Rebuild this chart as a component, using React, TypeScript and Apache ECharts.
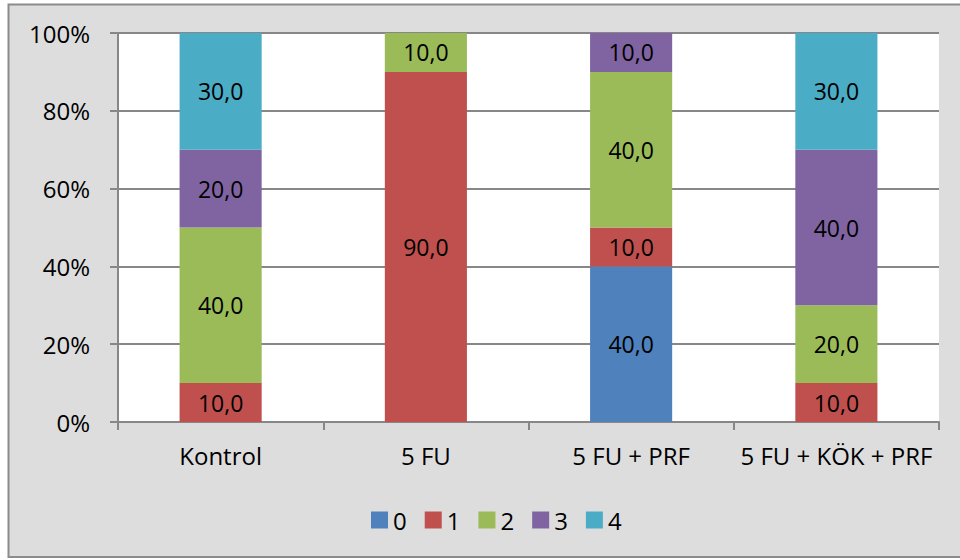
import React, { useEffect, useRef } from "react";
import * as echarts from "echarts";

const categories = ["Kontrol", "5 FU", "5 FU + PRF", "5 FU + KÖK + PRF"];
const seriesNames = ["0", "1", "2", "3", "4"];
const s0 = [0, 0, 40, 0];
const s1 = [10, 90, 10, 10];
const s2 = [40, 10, 40, 20];
const s3 = [20, 0, 10, 40];
const s4 = [30, 0, 0, 30];
const seriesValues = [s0, s1, s2, s3, s4];
const colors = ["#4F81BD", "#C0504D", "#9BBB59", "#8064A2", "#4BACC6"];
const yTicks = [0, 20, 40, 60, 80, 100];

const FONT = "'Open Sans', sans-serif";

export default function App() {
  const ref = useRef<HTMLDivElement>(null);
  useEffect(() => {
    document.body.style.margin = "0";
    if (!ref.current) return;
    const chart = echarts.init(ref.current, null, { renderer: "svg" });
    chart.setOption({
      animation: false,
      backgroundColor: "#ffffff",
      textStyle: { fontFamily: FONT },
      graphic: [
        {
          type: "rect",
          z: -10,
          shape: { x: 8.5, y: 4.5, width: 960, height: 552.5 },
          style: { fill: "#dddddd", stroke: "#8c8c8c", lineWidth: 2 },
        },
      ],
      grid: {
        left: 118,
        right: 21,
        top: 33,
        bottom: 138,
        show: true,
        backgroundColor: "#ffffff",
        borderWidth: 0,
      },
      legend: {
        data: seriesNames,
        left: 366,
        top: 503,
        itemWidth: 17,
        itemHeight: 17,
        itemGap: 18,
        icon: "rect",
        textStyle: { fontFamily: FONT, fontSize: 24, color: "#000", padding: [0, 0, 0, 0] },
      },
      xAxis: {
        type: "category",
        data: categories,
        axisLine: { show: true, lineStyle: { color: "#878787", width: 2 } },
        axisTick: { show: true, length: 8, lineStyle: { color: "#878787", width: 2 } },
        axisLabel: { fontFamily: FONT, fontSize: 24, color: "#000", margin: 21, interval: 0 },
      },
      yAxis: {
        type: "value",
        min: 0,
        max: 100,
        interval: 20,
        axisLine: { show: true, lineStyle: { color: "#878787", width: 2 } },
        axisTick: { show: true, length: 8, lineStyle: { color: "#878787", width: 2 } },
        splitLine: { show: true, lineStyle: { color: "#878787", width: 2 } },
        axisLabel: {
          fontFamily: FONT,
          fontSize: 24,
          color: "#000",
          margin: 28,
          formatter: (v: number) => (yTicks.includes(v) ? v + "%" : ""),
        },
      },
      series: seriesNames.map((name, i) => ({
        name,
        type: "bar",
        stack: "total",
        barWidth: "40%",
        itemStyle: { color: colors[i] },
        label: {
          show: true,
          position: "inside",
          color: "#000",
          fontFamily: FONT,
          fontSize: 23,
          formatter: (p: any) => (p.value ? Number(p.value).toFixed(1).replace(".", ",") : ""),
        },
        data: seriesValues[i],
      })),
    });
    return () => chart.dispose();
  }, []);
  return <div ref={ref} style={{ width: 960, height: 560 }} />;
}
